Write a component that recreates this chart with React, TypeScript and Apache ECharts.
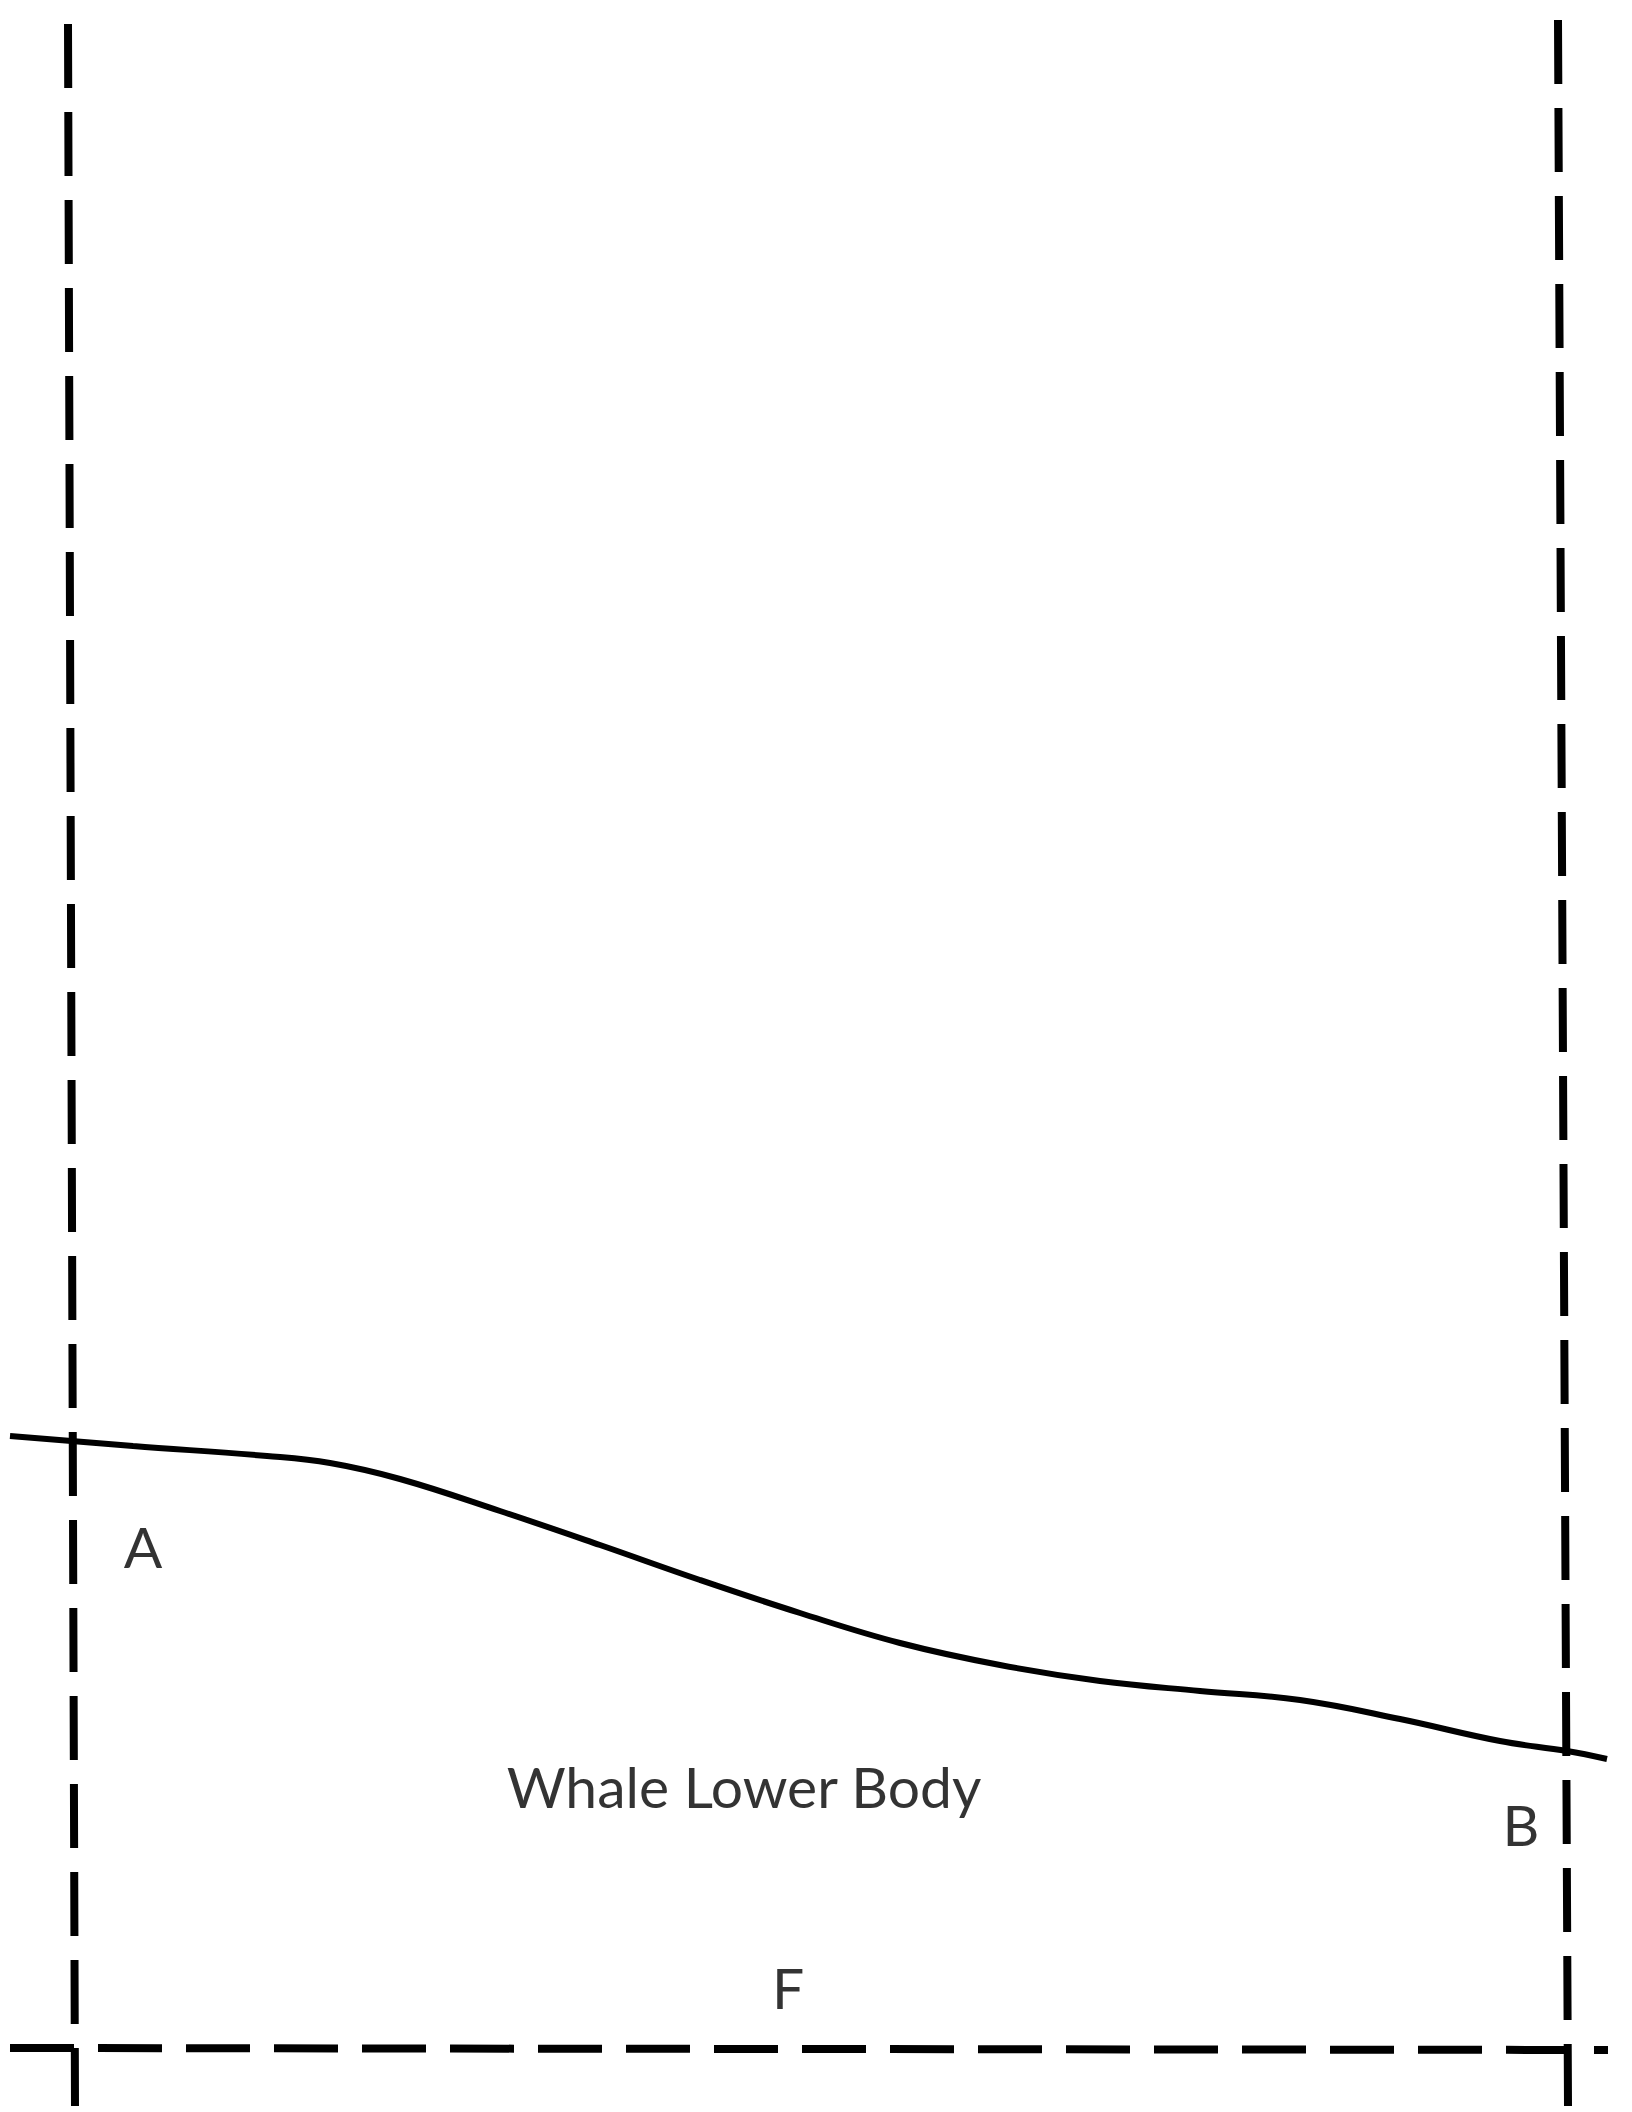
import React, { useEffect, useRef } from "react";
import * as echarts from "echarts";

const W = 1632;
const H = 2112;

// Body outline (whale lower body contour), pixel-space values
const contourX = [10, 133, 267, 330, 400, 500, 600, 700, 800, 900, 1000, 1100, 1200, 1300, 1400, 1500, 1567, 1607];
const contourY = [1436, 1446, 1456, 1463, 1479, 1511, 1545, 1580, 1613, 1643, 1665, 1681, 1691, 1700, 1719, 1741, 1751, 1759];

// Dashed boundary lines: [x, y] end points
const leftBoundary = [[68, 24], [75, 2106]];
const rightBoundary = [[1558, 20], [1568, 2106]];
const bottomBoundary = [[10, 2048], [1608, 2050]];

// Labels
const labelNames = ["A", "B", "F", "Whale Lower Body"];
const labelX = [143, 1521, 788, 744];
const labelY = [1546, 1824, 1987, 1786];

export default function App() {
  const ref = useRef<HTMLDivElement>(null);
  useEffect(() => {
    if (!ref.current) return;
    const chart = echarts.init(ref.current, undefined, { renderer: "svg" });
    const dashStyle = { color: "#000", width: 8, type: [64, 24] as any, cap: "butt" as const };
    chart.setOption({
      animation: false,
      backgroundColor: "#fff",
      grid: { left: 0, top: 0, right: 0, bottom: 0 },
      xAxis: { type: "value", min: 0, max: W, show: false },
      yAxis: { type: "value", min: 0, max: H, inverse: true, show: false },
      series: [
        { type: "line", data: leftBoundary, symbol: "none", lineStyle: dashStyle },
        { type: "line", data: rightBoundary, symbol: "none", lineStyle: dashStyle },
        { type: "line", data: bottomBoundary, symbol: "none", lineStyle: dashStyle },
        {
          type: "line",
          data: contourX.map((x, i) => [x, contourY[i]]),
          symbol: "none",
          smooth: 0.4,
          lineStyle: { color: "#000", width: 6 },
        },
        {
          type: "scatter",
          symbolSize: 0,
          silent: true,
          data: labelNames.map((n, i) => ({ name: n, value: [labelX[i], labelY[i]] })),
          label: {
            show: true,
            position: "inside",
            formatter: (p: any) => p.name,
            color: "#000",
            fontFamily: "Lato",
            fontSize: 57,
            align: "center",
            verticalAlign: "middle",
          },
        },
      ],
    });
    return () => chart.dispose();
  }, []);
  return (
    <div
      ref={ref}
      style={{ position: "absolute", left: 0, top: 0, width: W, height: H }}
    />
  );
}
